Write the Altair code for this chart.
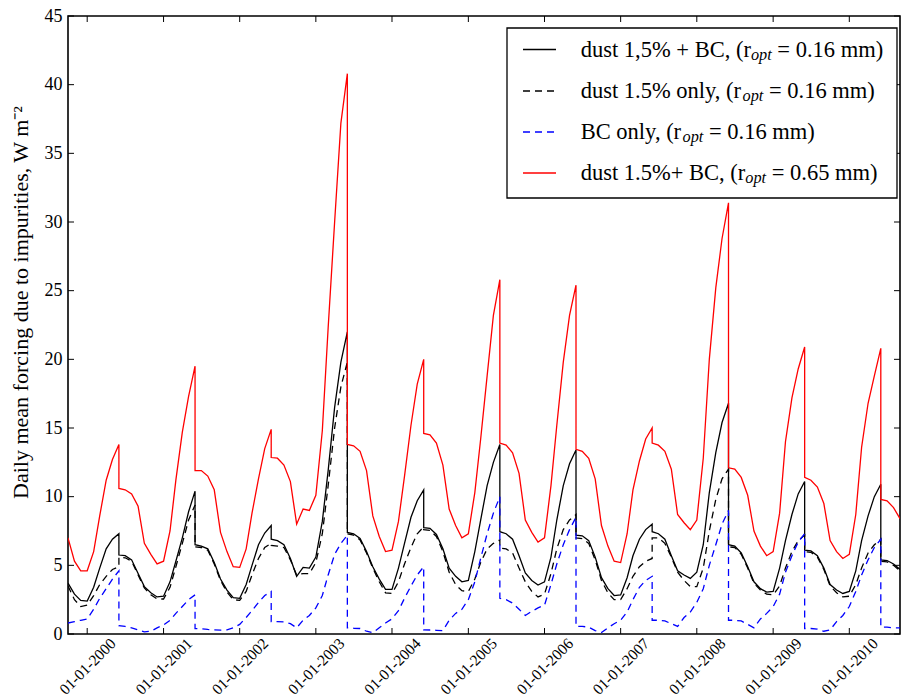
import altair as alt
import pandas as pd

# ---------------- data ----------------
# Each inner list is one snow season that starts on 1 June of SEASONS[i];
# values are monthly, the last value of a season shares its date with the first of the next.
SEASONS = [1999, 2000, 2001, 2002, 2003, 2004, 2005, 2006, 2007, 2008, 2009, 2010]
FIRST_MONTH = 4  # the record starts in October 1999 (4 months after 1 June)

dust_bc_016 = [
    [3.7, 2.9, 2.45, 2.4, 3.4, 4.8, 6.2, 6.9, 7.3],
    [5.75, 5.7, 5.4, 4.4, 3.45, 3.0, 2.7, 2.75, 3.8, 5.3, 7.0, 8.9, 10.4],
    [6.5, 6.4, 6.2, 5.2, 4.0, 3.2, 2.65, 2.6, 3.6, 5.0, 6.5, 7.35, 7.9],
    [6.9, 6.8, 6.5, 5.5, 4.2, 4.85, 4.8, 5.6, 8.2, 11.9, 16.5, 19.8, 22.0],
    [7.4, 7.3, 6.95, 6.0, 4.9, 4.0, 3.25, 3.25, 4.8, 6.6, 8.5, 9.7, 10.5],
    [7.75, 7.7, 7.25, 6.2, 4.8, 4.2, 3.8, 3.9, 6.0, 8.3, 10.8, 12.5, 13.8],
    [7.45, 7.3, 6.9, 5.7, 4.45, 3.9, 3.57, 3.8, 5.6, 8.3, 10.8, 12.4, 13.4],
    [7.2, 7.15, 6.8, 5.6, 4.1, 3.3, 2.8, 2.85, 4.1, 5.7, 6.9, 7.6, 8.0],
    [7.45, 7.3, 6.9, 5.7, 4.6, 4.3, 4.05, 4.5, 6.5, 10.3, 13.2, 15.4, 16.8],
    [6.5, 6.4, 5.9, 4.9, 3.8, 3.3, 3.05, 3.1, 4.8, 6.8, 8.7, 10.2, 11.1],
    [6.1, 6.05, 5.7, 4.8, 3.6, 3.2, 2.95, 3.1, 4.6, 6.8, 8.6, 10.0, 10.9],
    [5.4, 5.35, 5.1, 4.7],
]

dust_only_016 = [
    [3.5, 2.5, 2.0, 2.1, 2.8, 3.6, 4.2, 4.7, 4.9],
    [5.6, 5.55, 5.3, 4.3, 3.35, 2.85, 2.55, 2.55, 3.4, 4.9, 6.6, 8.3, 9.4],
    [6.35, 6.3, 6.1, 5.1, 3.9, 3.05, 2.5, 2.45, 3.1, 4.3, 5.5, 6.3, 6.6],
    [6.45, 6.4, 6.3, 5.4, 4.3, 4.4, 4.4, 5.2, 7.3, 10.8, 15.0, 18.0, 19.8],
    [7.3, 7.2, 6.85, 5.9, 4.8, 3.8, 3.0, 2.95, 3.8, 5.1, 6.3, 7.3, 7.8],
    [7.6, 7.55, 7.1, 6.0, 4.5, 3.6, 3.15, 3.1, 4.0, 5.2, 6.2, 6.6, 6.85],
    [6.25, 6.2, 5.9, 4.8, 3.8, 3.1, 2.7, 2.9, 4.4, 6.2, 7.6, 8.3, 8.7],
    [7.0, 6.95, 6.6, 5.4, 3.9, 3.0, 2.5, 2.5, 3.3, 4.2, 4.9, 5.3, 5.5],
    [7.0, 7.0, 6.6, 5.6, 4.5, 3.9, 3.45, 3.45, 4.8, 7.5, 9.8, 11.3, 12.0],
    [6.35, 6.3, 5.8, 4.8, 3.7, 3.2, 2.9, 2.85, 3.5, 4.8, 6.0, 6.8, 7.2],
    [6.0, 5.95, 5.6, 4.7, 3.5, 3.0, 2.7, 2.75, 3.6, 4.8, 5.9, 6.5, 6.9],
    [5.3, 5.25, 5.0, 4.6],
]

bc_only_016 = [
    [0.8, 0.9, 1.0, 1.1, 1.8, 2.6, 3.3, 4.0, 4.6],
    [0.6, 0.55, 0.45, 0.3, 0.15, 0.2, 0.45, 0.65, 1.0, 1.5, 2.0, 2.5, 2.85],
    [0.4, 0.38, 0.33, 0.3, 0.28, 0.3, 0.45, 0.7, 1.2, 1.7, 2.3, 2.8, 3.1],
    [0.9, 0.9, 0.88, 0.75, 0.45, 1.0, 1.35, 1.9, 2.8, 4.3, 5.8, 6.6, 7.2],
    [0.45, 0.42, 0.4, 0.2, 0.1, 0.45, 0.8, 1.1, 1.7, 2.6, 3.5, 4.3, 4.9],
    [0.3, 0.29, 0.27, 0.25, 1.0, 1.5, 1.8, 2.5, 3.8, 5.5, 7.3, 8.8, 10.0],
    [2.6, 2.5, 2.25, 1.8, 1.35, 1.65, 1.9, 2.1, 3.6, 5.1, 6.5, 7.6, 8.5],
    [0.55, 0.55, 0.5, 0.25, 0.1, 0.45, 0.75, 1.0, 1.6, 2.5, 3.4, 3.9, 4.2],
    [1.0, 1.0, 0.95, 0.75, 0.55, 1.2, 1.6, 2.3, 3.3, 5.0, 6.5, 8.0, 9.0],
    [1.0, 1.0, 0.95, 0.7, 0.45, 1.1, 1.5, 2.0, 2.9, 4.5, 5.7, 6.7, 7.3],
    [0.4, 0.4, 0.35, 0.2, 0.3, 0.9, 1.35, 2.0, 3.1, 4.3, 5.4, 6.3, 6.9],
    [0.5, 0.5, 0.45, 0.45],
]

dust_bc_065 = [
    [7.0, 5.3, 4.6, 4.6, 6.0, 8.6, 11.2, 12.7, 13.8],
    [10.6, 10.5, 10.2, 9.3, 6.6, 5.8, 5.1, 5.3, 7.5, 11.2, 14.7, 17.3, 19.5],
    [11.9, 11.9, 11.5, 10.5, 7.4, 6.0, 4.9, 4.85, 6.2, 8.8, 11.3, 13.5, 14.9],
    [12.85, 12.8, 12.3, 11.1, 8.0, 9.1, 9.0, 10.1, 14.8, 22.3, 30.0, 37.2, 40.8],
    [13.8, 13.7, 13.3, 11.9, 8.6, 7.1, 6.0, 6.1, 8.2, 11.5, 15.2, 18.2, 20.0],
    [14.6, 14.5, 13.9, 12.3, 9.1, 7.9, 7.0, 7.3, 10.3, 14.2, 18.8, 23.2, 25.8],
    [13.9, 13.75, 13.2, 11.7, 8.3, 7.4, 6.7, 7.0, 10.8, 15.2, 19.8, 23.2, 25.4],
    [13.45, 13.3, 12.8, 11.3, 7.9, 6.4, 5.3, 5.2, 7.3, 10.5, 12.6, 14.2, 15.0],
    [13.9, 13.75, 13.3, 12.0, 8.7, 8.1, 7.6, 8.3, 12.8, 20.0, 25.2, 28.8, 31.4],
    [12.1, 12.0, 11.4, 10.1, 7.5, 6.4, 5.7, 6.0, 8.8, 14.0, 17.2, 19.3, 20.9],
    [11.4, 11.2, 10.7, 9.5, 6.8, 6.0, 5.5, 5.8, 8.7, 13.6, 16.8, 18.8, 20.8],
    [9.8, 9.7, 9.2, 8.4],
]

X_TICK_YEARS = [2000, 2001, 2002, 2003, 2004, 2005, 2006, 2007, 2008, 2009, 2010]
Y_TICKS = [0, 5, 10, 15, 20, 25, 30, 35, 40, 45]

SERIES = [
    # key, data, colour, dash
    ("s1", dust_bc_016, "#000000", []),
    ("s2", dust_only_016, "#000000", [7, 5]),
    ("s3", bc_only_016, "#0000ff", [7, 5]),
    ("s4", dust_bc_065, "#ff0000", []),
]

# ---------------- build the long table ----------------
def season_frame(key, seasons):
    rows = []
    i = 0
    for k, vals in enumerate(seasons):
        y = SEASONS[k]
        m0 = FIRST_MONTH if k == 0 else 0
        for j, v in enumerate(vals):
            d = pd.Timestamp(y, 6, 1) + pd.DateOffset(months=m0 + j)
            rows.append({"series": key, "date": d.strftime("%Y-%m-%dT00:00:00"), "value": v, "i": i})
            i += 1
    return pd.DataFrame(rows)

# ---------------- layout ----------------
W, H = 832, 618
FONT = "Liberation Serif"

xscale = alt.Scale(domain=[alt.DateTime(year=1999, month=10, date=1),
                           alt.DateTime(year=2010, month=9, date=1)])
yscale = alt.Scale(domain=[0, 45], nice=False, zero=False)

x_axis = alt.Axis(
    values=[alt.DateTime(year=y, month=1, date=1) for y in X_TICK_YEARS],
    format="%d-%m-%Y", labelAngle=315, labelAlign="center", labelBaseline="middle",
    labelPadding=32, labelFlush=False, labelOverlap=False, ticks=False, domain=False,
    grid=False, labelFont=FONT, labelFontSize=15.5, labelColor="#000000", title=None,
)
y_axis = alt.Axis(
    values=Y_TICKS, ticks=False, domain=False, grid=False, labelFont=FONT,
    labelFontSize=18, labelColor="#000000", labelPadding=6, labelFlush=False,
    title="Daily mean forcing due to impurities, W m\u207b\u00b2", titleFont=FONT,
    titleFontSize=22, titleFontWeight="normal", titleColor="#000000",
    titleX=-36, titleY=286, titleAlign="center",
)

layers = []
for n, (key, data, color, dash) in enumerate(SERIES):
    df = season_frame(key, data)
    mk = dict(color=color, strokeWidth=1.3, clip=True)
    if dash:
        mk["strokeDash"] = dash
    enc = dict(
        x=alt.X("date:T", scale=xscale, axis=x_axis),
        y=alt.Y("value:Q", scale=yscale, axis=y_axis),
        order=alt.Order("i:Q"),
    )
    layers.append(alt.Chart(df).mark_line(**mk).encode(**enc))

# inward tick marks on all four sides
tick_dates = pd.DataFrame({"date": [f"{y}-01-01T00:00:00" for y in X_TICK_YEARS]})
ytick_df = pd.DataFrame({"value": Y_TICKS})
TL = 6
for y0, y1 in [(H, H - TL), (0, TL)]:
    layers.append(alt.Chart(tick_dates).mark_rule(color="#000000", strokeWidth=1).encode(
        x=alt.X("date:T", scale=xscale, axis=x_axis), y=alt.value(y0), y2=alt.value(y1)))
for x0, x1 in [(0, TL), (W, W - TL)]:
    layers.append(alt.Chart(ytick_df).mark_rule(color="#000000", strokeWidth=1).encode(
        y=alt.Y("value:Q", scale=yscale, axis=y_axis), x=alt.value(x0), x2=alt.value(x1)))

# ---------------- legend (drawn by hand to allow the r_opt subscript) ----------------
one = pd.DataFrame({"k": [0]})
LEG = dict(x0=439, x1=829, y0=12, y1=182)
layers.append(alt.Chart(one).mark_rect(fill="#ffffff", stroke="#000000", strokeWidth=1.3).encode(
    x=alt.value(LEG["x0"]), x2=alt.value(LEG["x1"]), y=alt.value(LEG["y0"]), y2=alt.value(LEG["y1"])))

LEG_TEXT = [
    ("dust 1,5% + BC, (r", "= 0.16 mm)"),
    ("dust 1.5% only, (r", "= 0.16 mm)"),
    ("BC only, (r", "= 0.16 mm)"),
    ("dust 1.5%+ BC, (r", "= 0.65 mm)"),
]
ROW_Y = [33.5, 75, 116, 157]
FS = 22.5
SUB = 16.3
WID = {" ": 250, "%": 833, "(": 333, ")": 333, "+": 564, ",": 250, ".": 250, "=": 564,
       "B": 667, "C": 667, "d": 500, "l": 278, "m": 778, "n": 500, "o": 500, "p": 500,
       "r": 333, "s": 389, "t": 278, "u": 500, "y": 500}
for ch in "0123456789":
    WID[ch] = 500


def text_width(s, size):
    return sum(WID.get(c, 500) for c in s) * size / 1000.0


TX = 512.7
for (key, data, color, dash), (pre, post), ry in zip(SERIES, LEG_TEXT, ROW_Y):
    mk = dict(color=color, strokeWidth=1.3)
    if dash:
        mk["strokeDash"] = dash
    layers.append(alt.Chart(one).mark_rule(**mk).encode(
        x=alt.value(455), x2=alt.value(488), y=alt.value(ry)))
    base = ry + 7
    w1 = text_width(pre, FS)
    w2 = text_width("opt", SUB)
    gap = text_width(" ", FS)
    layers.append(alt.Chart(one).mark_text(align="left", baseline="alphabetic", font=FONT,
                                           fontSize=FS, color="#000000").encode(
        x=alt.value(TX), y=alt.value(base), text=alt.value(pre)))
    layers.append(alt.Chart(one).mark_text(align="left", baseline="alphabetic", font=FONT,
                                           fontSize=SUB, fontStyle="italic", color="#000000").encode(
        x=alt.value(TX + w1), y=alt.value(base + 3), text=alt.value("opt")))
    layers.append(alt.Chart(one).mark_text(align="left", baseline="alphabetic", font=FONT,
                                           fontSize=FS, color="#000000").encode(
        x=alt.value(TX + w1 + w2 + gap), y=alt.value(base), text=alt.value(post)))

chart = alt.layer(*layers).properties(
    width=W, height=H,
    autosize=alt.AutoSizeParams(type="none"),
    padding={"left": 68, "top": 16, "right": 2, "bottom": 65},
    background="#ffffff",
).configure_view(stroke="#000000", strokeWidth=1.6)

chart.save("out.html", embed_options={"renderer": "svg", "actions": False})
